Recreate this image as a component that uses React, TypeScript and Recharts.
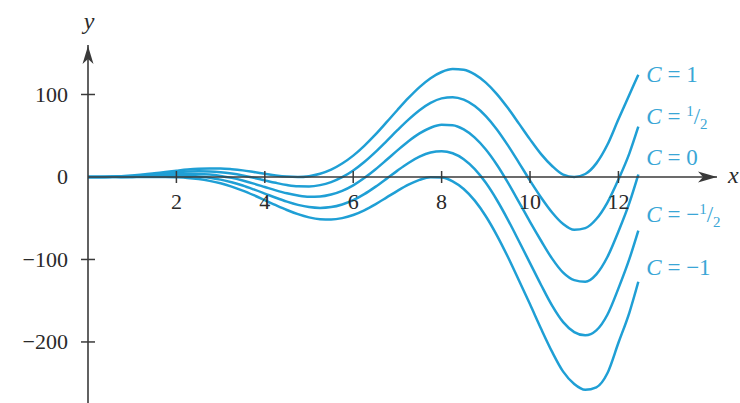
import React from 'react';
import { LineChart, Line, XAxis, YAxis, ReferenceLine, ReferenceDot } from 'recharts';

// Sample positions along x
const xValues = [
  0, 0.25, 0.5, 0.75, 1, 1.25, 1.5, 1.75, 2, 2.25, 2.5, 2.75, 3, 3.25, 3.5, 3.75,
  4, 4.25, 4.5, 4.75, 5, 5.25, 5.5, 5.75, 6, 6.25, 6.5, 6.75, 7, 7.25, 7.5, 7.75,
  8, 8.25, 8.5, 8.75, 9, 9.25, 9.5, 9.75, 10, 10.25, 10.5, 10.75, 11, 11.25, 11.5,
  11.75, 12, 12.25, 12.45,
];

// One solution curve per value of C
const cOne = [
  0, 0.1, 0.4, 1, 1.8, 3.0, 4.5, 6.1, 7.6, 9.0, 10.0, 10.4, 10.3, 9.4, 8.0, 6.0,
  3.9, 1.9, 0.5, 0, 1.0, 3.9, 8.9, 16.3, 25.9, 37.8, 51.3, 66.1, 81.2, 95.8, 109.0, 119.8,
  127.3, 130.9, 129.9, 124.4, 114.4, 100.5, 83.5, 64.7, 45.6, 27.7, 13.3, 2.8, 0, 3.6, 16.5,
  39, 70, 100, 124,
];
const cHalf = [
  0, 0, 0.2, 0.7, 1.3, 2.3, 3.4, 4.5, 5.6, 6.5, 6.9, 6.7, 5.8, 4.1, 1.8, -1.0,
  -4.1, -7.1, -9.7, -11.3, -11.5, -9.9, -6.2, -0.3, 7.9, 18.2, 30.2, 43.3, 56.7, 69.5, 80.9, 89.8,
  95.3, 96.8, 93.8, 86.1, 73.9, 57.7, 38.3, 17.2, -4.4, -24.8, -43, -57, -64, -62, -51,
  -31, -3, 29, 61,
];
const cZero = [
  0, 0, 0.1, 0.4, 0.8, 1.5, 2.2, 3.0, 3.6, 3.9, 3.7, 2.9, 1.3, -1.1, -4.3, -8.0,
  -12.1, -16.2, -19.8, -22.5, -24.0, -23.7, -21.3, -16.8, -10.1, -1.3, 9.1, 20.5, 32.2, 43.3, 52.8, 59.7,
  63.3, 62.8, 57.7, 47.8, 33.4, 14.9, -6.8, -30.4, -54.4, -77.3, -99, -116, -125, -127, -118,
  -97, -66, -31, 3,
];
const cNegHalf = [
  0, 0, 0, 0.1, 0.3, 0.7, 1.1, 1.5, 1.6, 1.4, 0.6, -0.9, -3.2, -6.4, -10.4, -15.1,
  -20.1, -25.2, -29.9, -33.8, -36.5, -37.5, -36.5, -33.3, -28.1, -20.8, -12.0, -2.3, 7.7, 17.0, 24.6, 29.7,
  31.3, 28.8, 21.6, 9.5, -7.1, -27.9, -51.9, -77.9, -104.4, -130.9, -156, -176, -188, -192, -186,
  -167, -135, -99, -65,
];
const cNegOne = [
  0, -0.1, -0.1, -0.2, -0.2, -0.1, 0, 0, -0.4, -1.1, -2.5, -4.7, -7.7, -11.7, -16.5, -22.1,
  -28.1, -34.2, -40.0, -45.1, -49.0, -51.2, -51.6, -49.9, -46.1, -40.4, -33.2, -25.1, -16.8, -9.3, -3.5, -0.3,
  -0.7, -5.3, -14.6, -28.7, -47.6, -70.7, -97.0, -125.4, -154.4, -184, -212, -236, -251, -258, -255,
  -238, -201, -164, -127,
];

const xTicks = [2, 4, 6, 8, 10, 12];
const yTicks = [100, 0, -100, -200];
const xMax = 14.23;
const yMin = -274;
const yMax = 160;

const data = xValues.map((x, i) => ({
  x,
  cOne: cOne[i],
  cHalf: cHalf[i],
  cZero: cZero[i],
  cNegHalf: cNegHalf[i],
  cNegOne: cNegOne[i],
}));

const series: { key: string; values: number[]; label: [string, boolean]; dy: number }[] = [
  { key: 'cOne', values: cOne, label: ['1', false], dy: 7 },
  { key: 'cHalf', values: cHalf, label: ['', true], dy: -3 },
  { key: 'cZero', values: cZero, label: ['0', false], dy: -10 },
  { key: 'cNegHalf', values: cNegHalf, label: ['\u2212', true], dy: -9 },
  { key: 'cNegOne', values: cNegOne, label: ['\u22121', false], dy: -7 },
];

const CURVE = '#1f9fd5';
const LABEL = '#3aa6d6';
const AXIS = '#3a3a3a';
const TEXT = '#2a2a2a';
const FONT = '"Liberation Serif", "DejaVu Serif", serif';

export default function App() {
  return (
    <div style={{ position: 'fixed', left: 0, top: 0, width: 740, height: 403, background: '#fff' }}>
      <LineChart
        width={740}
        height={403}
        data={data}
        margin={{ top: 45, right: 23, bottom: 0, left: 88 }}
      >
        <XAxis type="number" dataKey="x" domain={[0, xMax]} allowDataOverflow scale="linear" hide />
        <YAxis type="number" domain={[yMin, yMax]} allowDataOverflow scale="linear" hide />

        {series.map((s) => (
          <Line
            key={s.key}
            type="monotone"
            dataKey={s.key}
            stroke={CURVE}
            strokeWidth={2.5}
            dot={false}
            isAnimationActive={false}
          />
        ))}

        <ReferenceLine x={0} stroke={AXIS} strokeWidth={1.6} />
        <ReferenceLine y={0} stroke={AXIS} strokeWidth={1.6} />

        {xTicks.map((t) => (
          <ReferenceDot
            key={`xt${t}`}
            x={t}
            y={0}
            shape={(p: any) => (
              <g>
                <line x1={p.cx} y1={p.cy - 6} x2={p.cx} y2={p.cy + 6} stroke={AXIS} strokeWidth={1.5} />
                <text
                  x={p.cx}
                  y={p.cy + 32}
                  textAnchor="middle"
                  fontFamily={FONT}
                  fontSize={22}
                  fill={TEXT}
                >
                  {t}
                </text>
              </g>
            )}
          />
        ))}

        {yTicks.map((t) => (
          <ReferenceDot
            key={`yt${t}`}
            x={0}
            y={t}
            shape={(p: any) => (
              <g>
                {t !== 0 && (
                  <line x1={p.cx - 7} y1={p.cy} x2={p.cx + 7} y2={p.cy} stroke={AXIS} strokeWidth={1.5} />
                )}
                <text
                  x={p.cx - 20}
                  y={p.cy + 7.5}
                  textAnchor="end"
                  fontFamily={FONT}
                  fontSize={22}
                  fill={TEXT}
                >
                  {t < 0 ? `\u2212${Math.abs(t)}` : t}
                </text>
              </g>
            )}
          />
        ))}

        {/* x-axis arrowhead and name */}
        <ReferenceDot
          x={xMax}
          y={0}
          shape={(p: any) => (
            <g>
              <path
                d={`M${p.cx},${p.cy} L${p.cx - 19},${p.cy - 5.5} L${p.cx - 14},${p.cy} L${p.cx - 19},${p.cy + 5.5} Z`}
                fill={AXIS}
              />
              <text x={p.cx + 11} y={p.cy + 6} fontFamily={FONT} fontStyle="italic" fontSize={24} fill={TEXT}>
                x
              </text>
            </g>
          )}
        />

        {/* y-axis arrowhead and name */}
        <ReferenceDot
          x={0}
          y={yMax}
          shape={(p: any) => (
            <g>
              <path
                d={`M${p.cx},${p.cy + 1} L${p.cx - 5.5},${p.cy + 19} L${p.cx},${p.cy + 14} L${p.cx + 5.5},${p.cy + 19} Z`}
                fill={AXIS}
              />
              <text x={p.cx + 1} y={p.cy - 16} textAnchor="middle" fontFamily={FONT} fontStyle="italic" fontSize={24} fill={TEXT}>
                y
              </text>
            </g>
          )}
        />

        {/* curve names at the right-hand ends */}
        {series.map((s) => (
          <ReferenceDot
            key={`lbl${s.key}`}
            x={xValues[xValues.length - 1]}
            y={s.values[s.values.length - 1]}
            shape={(p: any) => (
              <text
                x={p.cx + 8}
                y={p.cy + s.dy}
                fontFamily={FONT}
                fontSize={23}
                fill={LABEL}
              >
                <tspan fontStyle="italic">C</tspan>
                <tspan> = {s.label[0]}</tspan>
                {s.label[1] && (
                  <>
                    <tspan fontSize={15} dy={-8}>1</tspan>
                    <tspan dy={8}>/</tspan>
                    <tspan fontSize={15} dy={5}>2</tspan>
                  </>
                )}
              </text>
            )}
          />
        ))}
      </LineChart>
    </div>
  );
}
